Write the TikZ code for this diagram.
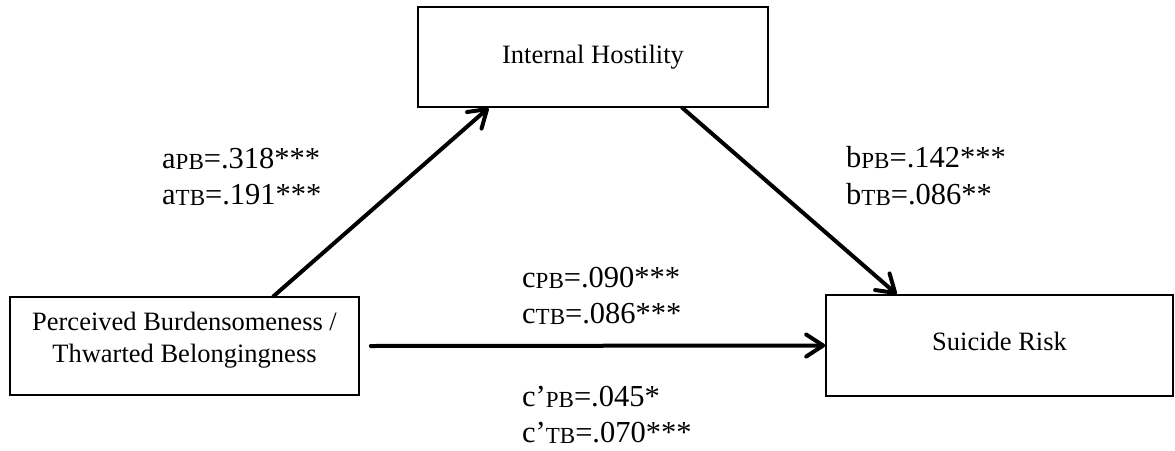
\documentclass[tikz,border=0pt]{standalone}
\usepackage{fontspec}
\setmainfont{Liberation Serif}
\usetikzlibrary{arrows.meta,calc}
\newcommand\sbs[1]{\raisebox{-1pt}{\fontsize{23}{23}\selectfont #1}}
\tikzset{
  varbox/.style={draw, line width=1.6pt, inner sep=0pt,
    font=\fontsize{26.5}{32}\selectfont},
  coef/.style={anchor=base west, inner sep=0pt, font=\fontsize{30.5}{37}\selectfont},
  arr/.style={line width=4pt, line cap=round,
    -{Straight Barb[length=17pt,width=22pt,line cap=round,line join=round]}}
}
\begin{document}
\begin{tikzpicture}[x=1pt,y=-1pt]
\useasboundingbox (0,0) rectangle (1175,450);
\node[varbox, minimum width=349pt, minimum height=98pt, text height=16pt, text depth=48pt] (pb) at (184.5,346)
  {\begin{tabular}[t]{@{}c@{}}Perceived Burdensomeness /\\Thwarted Belongingness\end{tabular}};
\node[varbox, minimum width=350pt, minimum height=100pt, text height=18pt, text depth=6pt] (ih) at (593,57)
  {Internal Hostility};
\node[varbox, minimum width=347pt, minimum height=101pt, text height=18pt, text depth=7.6pt] (sr) at (999.5,345.5)
  {Suicide Risk};
\draw[arr] ($(pb.north west)!0.754!(pb.north east)$) -- ($(ih.south west)!0.203!(ih.south east)$);
\draw[arr] ($(ih.south west)!0.754!(ih.south east)$) -- ($(sr.north west)!0.205!(sr.north east)$);
\draw[arr] ([xshift=11pt]pb.east) -- (sr.west);
\node[coef] (a1) at (162,168) {a\sbs{PB}=.318***};
\node[coef] (a2) at (162,204) {a\sbs{TB}=.191***};
\node[coef] (b1) at (846,167) {b\sbs{PB}=.142***};
\node[coef] (b2) at (846,204) {b\sbs{TB}=.086**};
\node[coef] (c1) at (522,287) {c\sbs{PB}=.090***};
\node[coef] (c2) at (522,323) {c\sbs{TB}=.086***};
\node[coef] (d1) at (522,406) {c’\sbs{PB}=.045*};
\node[coef] (d2) at (522,442) {c’\sbs{TB}=.070***};
\end{tikzpicture}
\end{document}
